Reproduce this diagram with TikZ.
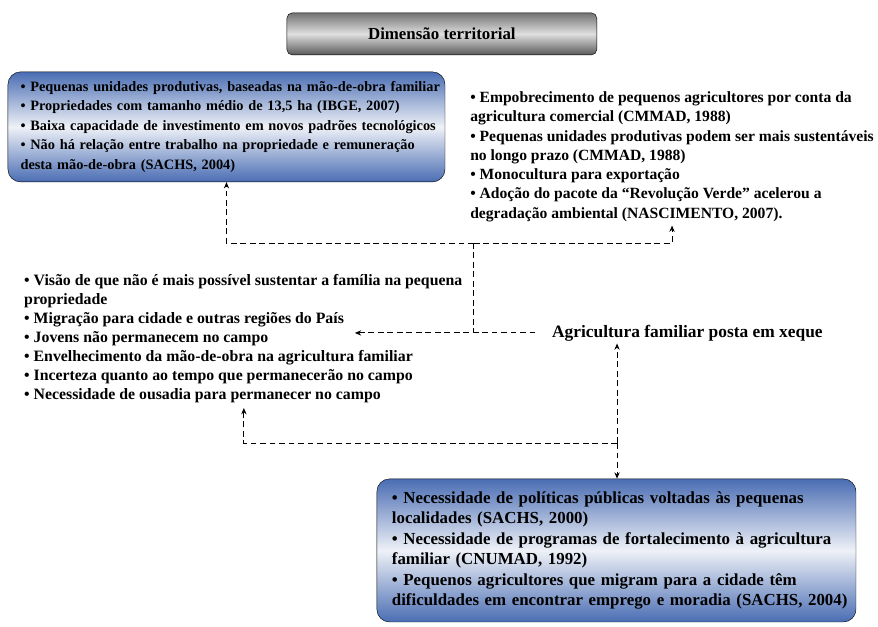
\documentclass[tikz,border=0pt]{standalone}
\usepackage{fontspec}
\setmainfont{Liberation Serif}
\usepackage{tikz}
\usetikzlibrary{positioning,arrows.meta}

\definecolor{boxblue}{HTML}{4A6DB3}
\definecolor{boxlight}{HTML}{EEF1F7}

\begin{document}
\begin{tikzpicture}[
  every node/.style={font=\fontsize{15}{18}\selectfont\bfseries},
  bluebox/.style={draw,rounded corners=12pt,align=left,inner sep=0pt,
    top color=boxblue,bottom color=boxblue,middle color=boxlight},
  indent/.style={execute at begin node={\leftskip=#1\relax}},
  titlebox/.style={draw,rounded corners=5pt,align=center,
    top color=gray!90!black,bottom color=black!65,middle color=gray!25,
    font=\fontsize{16}{18}\selectfont\bfseries},
  plain/.style={align=left,inner sep=0pt},
  link/.style={dashed,dash pattern=on 5.5pt off 3.5pt,line width=0.9pt},
  arrow/.style={link,-{Stealth[length=6pt,width=5pt]}}
]
  \useasboundingbox (0,0) rectangle (29.27,-20.9);
  \node[titlebox,minimum width=10.33cm,minimum height=1.4cm] (title) at (14.73,-1.13)
    {Dimensão territorial};
  \node[bluebox,minimum height=3.67cm,text width=14.57cm,indent=0.42cm,
        font=\fontsize{13.6}{18.5}\selectfont\bfseries] (tl) at (7.55,-4.23)
    {• Pequenas unidades produtivas, baseadas na mão-de-obra familiar\\
     • Propriedades com tamanho médio de 13,5 ha (IBGE, 2007)\\
     • Baixa capacidade de investimento em novos padrões tecnológicos\\
     • Não há relação entre trabalho na propriedade e remuneração\\
     desta mão-de-obra (SACHS, 2004)};
  \node[plain,anchor=north west,font=\fontsize{14.8}{18.3}\selectfont\bfseries] (tr) at (15.67,-3.05)
    {• Empobrecimento de pequenos agricultores por conta da\\
     agricultura comercial (CMMAD, 1988)\\
     • Pequenas unidades produtivas podem ser mais sustentáveis\\
     no longo prazo (CMMAD, 1988)\\
     • Monocultura para exportação\\
     • Adoção do pacote da “Revolução Verde” acelerou a\\
     degradação ambiental (NASCIMENTO, 2007).};
  \node[plain,anchor=north west] (ll) at (0.8,-9.15)
    {• Visão de que não é mais possível sustentar a família na pequena\\
     propriedade\\
     • Migração para cidade e outras regiões do País\\
     • Jovens não permanecem no campo\\
     • Envelhecimento da mão-de-obra na agricultura familiar\\
     • Incerteza quanto ao tempo que permanecerão no campo\\
     • Necessidade de ousadia para permanecer no campo};
  \node[plain,anchor=west,font=\fontsize{16.5}{19}\selectfont\bfseries] (ag) at (18.4,-11.1)
    {Agricultura familiar posta em xeque};
  \node[bluebox,minimum height=4.77cm,text width=15.97cm,indent=0.5cm,
        font=\fontsize{16}{19.4}\selectfont\bfseries] (bt) at (20.55,-18.35)
    {• Necessidade de políticas públicas voltadas às pequenas\\
     localidades (SACHS, 2000)\\
     • Necessidade de programas de fortalecimento à agricultura\\
     familiar (CNUMAD, 1992)\\
     • Pequenos agricultores que migram para a cidade têm\\
     dificuldades em encontrar emprego e moradia (SACHS, 2004)};
  % junctions of the dashed links
  \coordinate (up) at (15.8,-8.1);
  \coordinate (mid) at (15.8,-11.1);
  \coordinate (lltip) at (11.83,-11.1);
  \coordinate (low) at (20.57,-14.77);
  \coordinate (agtip) at (20.57,-11.45);
  \coordinate (lowtip) at (8.13,-13.6);
  \draw[arrow] (up) -| (tl.south);
  \draw[arrow] (up) -| ([yshift=-0.12cm]tr.south);
  \draw[link] (up) -- (mid);
  \draw[arrow,shorten <=0.55cm] (ag.west) -- (lltip);
  \draw[arrow] (low) -- (agtip);
  \draw[arrow] (low) -- (low |- bt.north);
  \draw[arrow] (low) -| (lowtip);
\end{tikzpicture}
\end{document}
